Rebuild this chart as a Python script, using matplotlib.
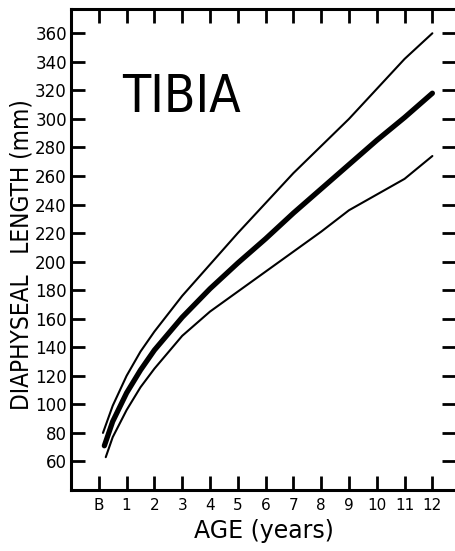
import numpy as np
import matplotlib
matplotlib.use("Agg")
import matplotlib.pyplot as plt

# =========================
# Datos
# =========================

ages_upper = [0.15, 0.5, 1, 1.5, 2, 3, 4, 5, 6, 7, 8, 9, 10, 11, 12]
upper = [80, 99, 120, 137, 151, 176, 198, 220, 241, 262, 281, 300, 321, 342, 360]

ages_mean = [0.2, 0.5, 1, 1.5, 2, 3, 4, 5, 6, 7, 8, 9, 10, 11, 12]
mean = [71, 88, 108, 124, 138, 161, 181, 199, 216, 234, 251, 268, 285, 301, 318]

ages_lower = [0.25, 0.5, 1, 1.5, 2, 3, 4, 5, 6, 7, 8, 9, 10, 11, 12]
lower = [63, 77, 96, 112, 125, 148, 165, 179, 193, 207, 221, 236, 247, 258, 274]

x_ticks = list(range(0, 13))
x_labels = ["B"] + [str(i) for i in range(1, 13)]
y_ticks = list(range(60, 361, 20))

# =========================
# Figura
# =========================

plt.rcParams["font.family"] = "DejaVu Sans"

fig = plt.figure(figsize=(4.56, 5.51), dpi=100)
ax = fig.add_axes([71 / 456, 61 / 551, 385 / 456, 481 / 551])

ax.plot(ages_upper, upper, color="black", lw=1.5, solid_capstyle="round")
ax.plot(ages_mean, mean, color="black", lw=3.8, solid_capstyle="round")
ax.plot(ages_lower, lower, color="black", lw=1.5, solid_capstyle="round")

ax.set_xlim(-1, 12.85)
ax.set_ylim(40, 377)

ax.set_xticks(x_ticks)
ax.set_xticklabels(x_labels)
ax.set_yticks(y_ticks)

for s in ["left", "bottom", "top"]:
    ax.spines[s].set_linewidth(2.2)
ax.spines["right"].set_visible(False)

ax.tick_params(axis="both", direction="in", width=2, length=10,
               top=True, right=True, labeltop=False, labelright=False)
ax.tick_params(axis="x", labelsize=11, pad=6)
ax.tick_params(axis="y", labelsize=12, pad=3)

ax.set_xlabel("AGE (years)", fontsize=17, labelpad=4)

# etiqueta del eje y
fig.text(22 / 456, 1 - 255 / 551, "DIAPHYSEAL   LENGTH (mm)",
         rotation=90, ha="center", va="center", fontsize=17.5,
         fontstretch="condensed")

# titulo interno
fig.text(182 / 456, 1 - 98 / 551, "TIBIA", ha="center", va="center",
         fontsize=37, fontstretch="condensed")

fig.savefig("out.png", dpi=100)
